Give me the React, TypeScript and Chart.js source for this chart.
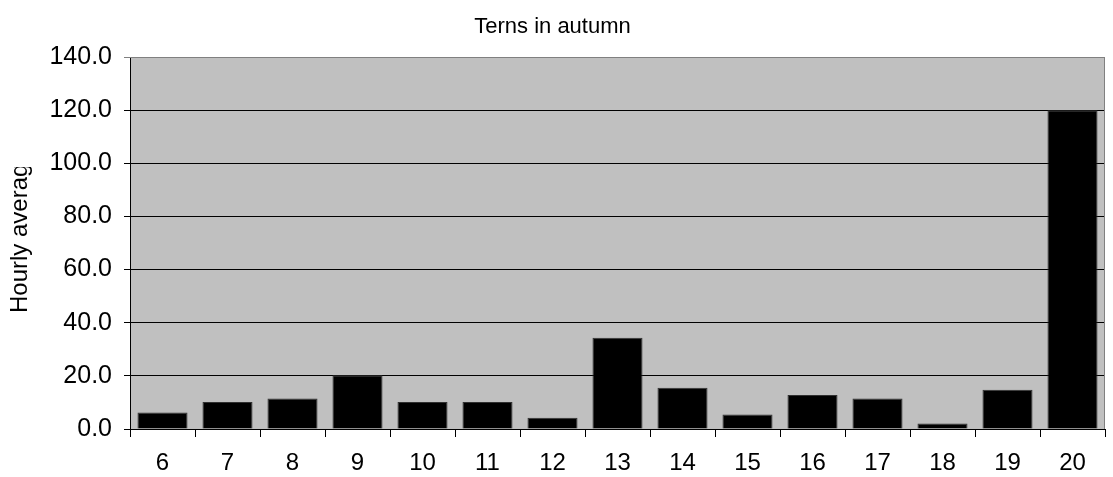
import React, { useEffect, useRef } from "react";
import { Chart, registerables } from "chart.js";

Chart.register(...registerables);

const hours = ["6", "7", "8", "9", "10", "11", "12", "13", "14", "15", "16", "17", "18", "19", "20"];
const hourlyAverage = [6.2, 10.2, 11.5, 20.2, 10.2, 10.2, 4.2, 34.3, 15.5, 5.5, 12.8, 11.5, 2.1, 14.8, 120.0];
const chartTitle = "Terns in autumn";
const yAxisTitle = "Hourly average";
const FONT = "'Liberation Sans', Arial, sans-serif";

const plotBackground = {
  id: "plotBackground",
  beforeDraw(chart: any) {
    const { ctx, chartArea } = chart;
    ctx.save();
    ctx.fillStyle = "#C0C0C0";
    ctx.fillRect(chartArea.left, chartArea.top, chartArea.right - chartArea.left, chartArea.bottom - chartArea.top);
    ctx.restore();
  },
  afterDatasetsDraw(chart: any) {
    const { ctx, chartArea } = chart;
    ctx.save();
    ctx.strokeStyle = "#808080";
    ctx.lineWidth = 1;
    ctx.beginPath();
    ctx.moveTo(chartArea.left, chartArea.top + 0.5);
    ctx.lineTo(chartArea.right - 0.5, chartArea.top + 0.5);
    ctx.lineTo(chartArea.right - 0.5, chartArea.bottom);
    ctx.stroke();
    ctx.restore();
  },
  afterDraw(chart: any) {
    // y-axis title, clipped at its top like the reference's text box
    const { ctx, chartArea } = chart;
    const clipTop = chartArea.top + 110;
    ctx.save();
    ctx.beginPath();
    ctx.rect(0, clipTop, 45, chartArea.bottom - clipTop);
    ctx.clip();
    ctx.translate(20, chartArea.top + 256);
    ctx.rotate(-Math.PI / 2);
    ctx.fillStyle = "#000";
    ctx.font = "24px " + FONT;
    ctx.textAlign = "left";
    ctx.textBaseline = "middle";
    ctx.fillText(yAxisTitle, 0, 0);
    ctx.restore();
  },
};

export default function App() {
  const ref = useRef<HTMLCanvasElement>(null);
  useEffect(() => {
    const chart = new Chart(ref.current!, {
      type: "bar",
      data: {
        labels: hours,
        datasets: [
          {
            data: hourlyAverage,
            backgroundColor: "#000000",
            borderColor: "#303030",
            borderWidth: 1,
            barPercentage: 0.77,
            categoryPercentage: 1,
          },
        ],
      },
      plugins: [plotBackground],
      options: {
        animation: false,
        responsive: false,
        maintainAspectRatio: false,
        layout: { padding: { left: 0, right: 8, top: 0, bottom: 0 } },
        plugins: {
          legend: { display: false },
          tooltip: { enabled: false },
          title: {
            display: true,
            text: chartTitle,
            color: "#000",
            font: { family: FONT, size: 22, weight: "normal" },
            padding: { top: 14, bottom: 16.6 },
          },
        },
        scales: {
          x: {
            offset: true,
            grid: { offset: true, drawOnChartArea: false, drawTicks: true, tickLength: 8, color: "#000" },
            border: { color: "#000" },
            ticks: { color: "#000", font: { family: FONT, size: 24 }, padding: 12, maxRotation: 0 },
            afterFit(scale: any) {
              scale.height = 48;
            },
          },
          y: {
            min: 0,
            max: 140,
            grid: {
              color: (c: any) => (c.tick && c.tick.value === 140 ? "#808080" : "#000"),
              tickLength: 6,
            },
            border: { color: "#000" },
            ticks: {
              stepSize: 20,
              color: "#000",
              font: { family: FONT, size: 25 },
              padding: 12,
              callback: (v: any) => Number(v).toFixed(1),
            },
            afterFit(scale: any) {
              scale.width = 130;
            },
          },
        },
      },
    });
    return () => chart.destroy();
  }, []);
  return (
    <div style={{ position: "fixed", left: 0, top: 0, width: 1113, height: 477, background: "#fff" }}>
      <canvas ref={ref} width={1113} height={477} style={{ display: "block", width: 1113, height: 477 }} />
    </div>
  );
}
